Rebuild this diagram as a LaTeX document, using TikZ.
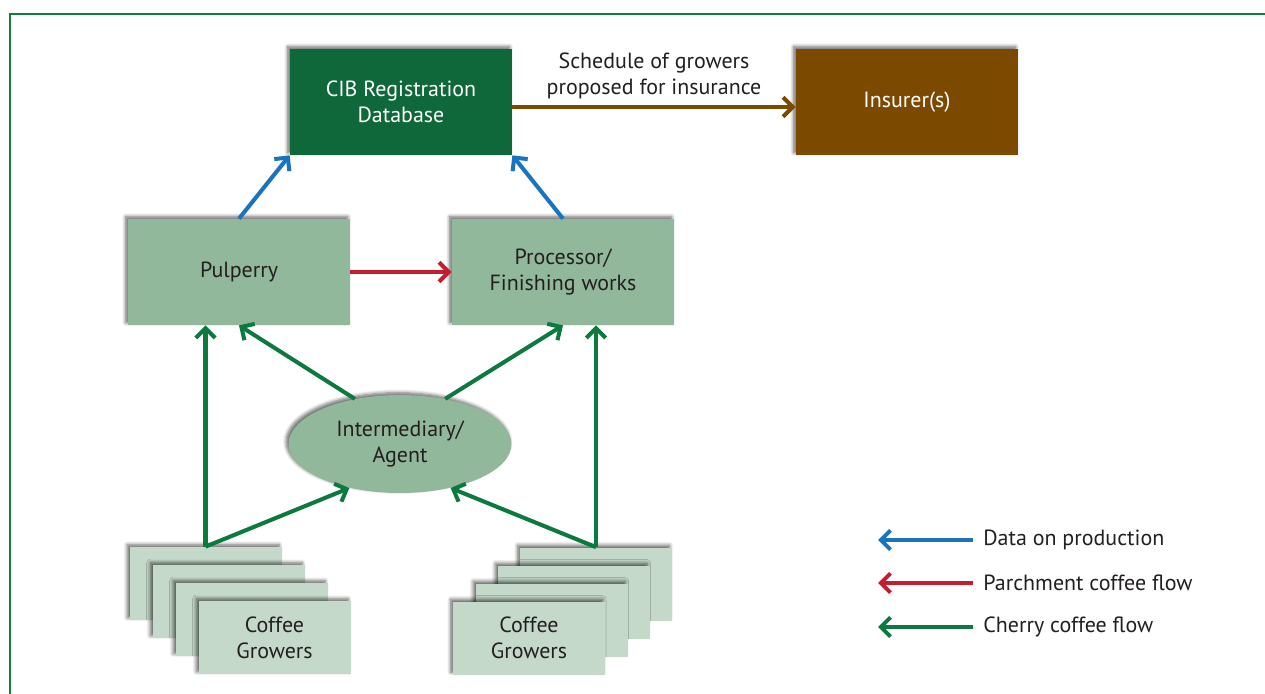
\documentclass[tikz,border=0pt]{standalone}
\usepackage{fontspec}
\setmainfont{PT Sans}
\usetikzlibrary{shapes.geometric,arrows.meta,shadows.blur}
\definecolor{dkgreen}{HTML}{0F6839}
\definecolor{brown}{HTML}{7B4A00}
\definecolor{lgreen}{HTML}{92B89B}
\definecolor{cardc}{HTML}{C5D9CA}
\definecolor{datablue}{HTML}{1874BE}
\definecolor{parred}{HTML}{C41E2E}
\definecolor{cherry}{HTML}{0C7A3E}
\definecolor{framec}{HTML}{0E7D40}
\definecolor{txt}{HTML}{231F20}
\tikzset{box/.style={minimum width = 4.44cm,minimum height = 2.12cm,align = center,text = txt,
  blur shadow={shadow xshift=-1.3pt,shadow yshift=1.3pt,shadow blur steps=6,shadow opacity=60}},
card/.style={box,fill = cardc,minimum width = 3.04cm,minimum height = 1.46cm},
agent/.style={ellipse,fill = lgreen,minimum width = 4.46cm,minimum height = 1.96cm,align = center,text = txt,
  blur shadow={shadow xshift=-1.3pt,shadow yshift=1.3pt,shadow blur steps=6,shadow opacity=60}},
arrow/.style = {-{Straight Barb[length = 5.5pt,width = 11pt]},line width = 2.3pt}}

\begin{document}
\begin{tikzpicture}[font=\fontsize{12.5}{14.7}\selectfont]
\useasboundingbox (0,0) rectangle (25.3,-13.88);
\draw[framec,line width = 1.2pt] (0.2,-13.88) |- (25.3,-0.28);

\node[box,fill = dkgreen,text = white] (cib) at (8.02,-2.04) {CIB Registration \\ Database};
\node[box,fill = brown,text = white] (ins) at (18.14,-2.04) {Insurer(s)};
\node[box,fill = lgreen] (pul) at (4.78,-5.44) {Pulperry};
\node[box,fill = lgreen] (pro) at (11.26,-5.44) {Processor/ \\ Finishing works};
\node[agent] (ag) at (8.0,-8.88) {Intermediary/ \\ Agent};

% growers, left stack
\node[card] (l1) at (4.11,-11.67) {};
\node[card] (l2) at (4.57,-12.03) {};
\node[card] (l3) at (5.03,-12.39) {};
\node[card] (l4) at (5.49,-12.75) {Coffee \\ Growers};
% growers, right stack
\node[card] (r1) at (11.92,-11.68) {};
\node[card] (r2) at (11.47,-12.04) {};
\node[card] (r3) at (11.03,-12.40) {};
\node[card] (r4) at (10.58,-12.76) {Coffee \\ Growers};

\draw[arrow,brown] ([yshift = -.1cm]cib.east) -- ([yshift = -.1cm]ins.west)
  node[pos=0.5,above = 0pt,align = center,text = txt] {Schedule of growers \\ proposed for insurance};

\draw[arrow,datablue] (pul.north) -- (cib.south west);
\draw[arrow,datablue] (pro.north) -- (cib.south east);
\draw[arrow,parred] (pul) -- (pro);

\draw[arrow,cherry] (l1.north) -- (l1.north |- pul.south);
\draw[arrow,cherry] (r1.north) -- (r1.north |- pro.south);
\draw[arrow,cherry] (ag.135) -- (pul.south);
\draw[arrow,cherry] (ag.45) -- (pro.south);
\draw[arrow,cherry] (l1.north) -- (ag.221);
\draw[arrow,cherry] (r1.north) -- (ag.-41);

% legend
\node[right,text = txt,inner sep = 0pt] (ld) at (19.66,-10.8) {Data on production};
\node[right,text = txt,inner sep = 0pt] (lp) at (19.66,-11.66) {Parchment coffee flow};
\node[right,text = txt,inner sep = 0pt] (lc) at (19.66,-12.54) {Cherry coffee flow};
\draw[arrow,datablue] ([xshift = -.2cm]ld.west) -- ++(-1.9,0);
\draw[arrow,parred] ([xshift = -.2cm]lp.west) -- ++(-1.9,0);
\draw[arrow,cherry] ([xshift = -.2cm]lc.west) -- ++(-1.9,0);
\end{tikzpicture}
\end{document}
